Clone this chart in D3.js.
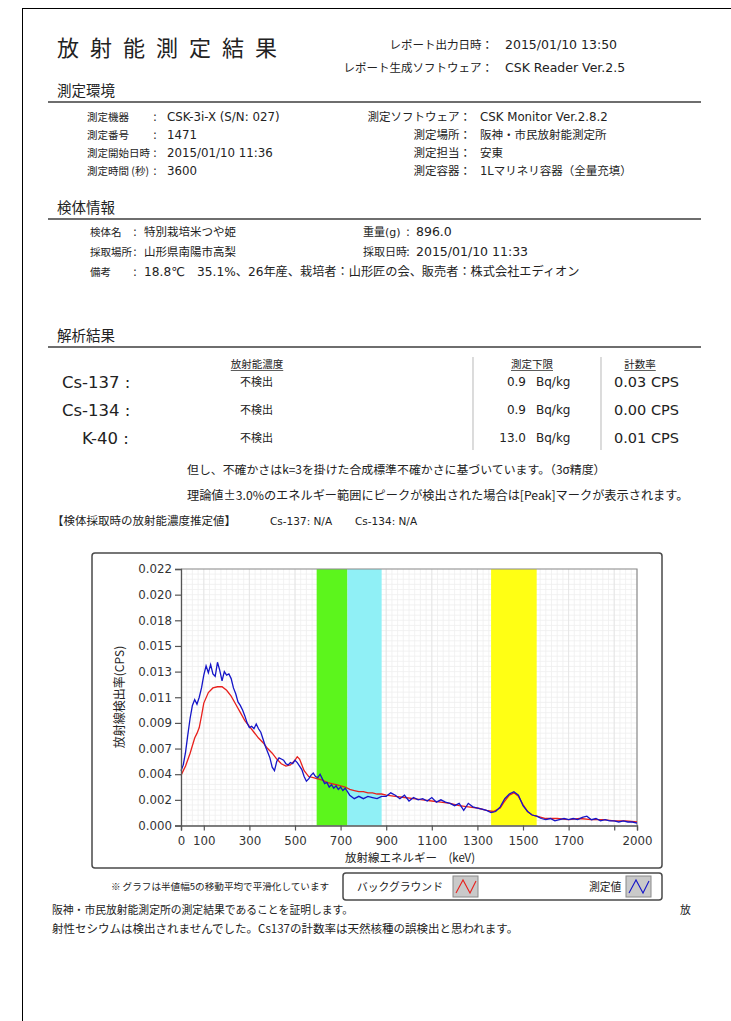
<!DOCTYPE html>
<html>
<head>
<meta charset="utf-8">
<script src="https://cdn.jsdelivr.net/npm/d3@7"></script>
<style>
  body { margin: 0; background: #ffffff; }
  text { font-family: "DejaVu Sans", "Noto Sans CJK JP", sans-serif; fill: #222222; }
  .jp { font-family: "Noto Sans CJK JP", sans-serif; }
</style>
</head>
<body>
<div id="page"></div>
<script>

// measured spectrum (blue) - keV / CPS
const measured_kev = [0,10,20,30,40,50,60,70,80,90,100,110,120,130,140,150,160,170,180,190,
  200,210,220,230,240,250,260,270,280,290,300,310,320,330,340,350,360,370,380,390,
  400,410,420,430,440,450,460,470,480,490,500,510,520,530,540,550,560,570,580,590,
  600,610,620,630,640,650,660,670,680,690,700,710,720,730,740,
  760,780,800,820,840,860,880,900,920,940,960,980,1000,1020,1040,1060,1080,1100,1120,1140,
  1160,1180,1200,1220,1240,1260,1280,1300,1320,1340,1360,1380,1400,1420,1440,1460,1480,1500,1520,1540,
  1560,1580,1600,1620,1640,1660,1680,1700,1720,1740,1760,1780,1800,1820,1840,1860,1880,1900,1920,1940,
  1960,1980,2000];
const measured_cps = [0.0047,0.0052,0.0063,0.0078,0.0092,0.0103,0.0108,0.0104,0.0110,0.0118,
  0.0129,0.0137,0.0131,0.0138,0.0130,0.0128,0.0140,0.0133,0.0124,0.0132,
  0.0129,0.0130,0.0126,0.0118,0.0113,0.0106,0.0103,0.0099,0.0094,0.0088,
  0.0084,0.0085,0.0083,0.0087,0.0083,0.0080,0.0074,0.0068,0.0063,0.0058,
  0.0050,0.0047,0.0055,0.0058,0.0057,0.0056,0.0053,0.0052,0.0054,0.0053,
  0.0056,0.0054,0.0051,0.0048,0.0042,0.0038,0.0040,0.0043,0.0045,0.0042,
  0.0041,0.0044,0.0040,0.0036,0.0037,0.0033,0.0035,0.0032,0.0034,0.0031,
  0.0033,0.0030,0.0032,0.0029,0.0026,
  0.0023,0.0025,0.0023,0.0025,0.0024,0.0023,0.0025,0.0025,0.0028,0.0026,
  0.0023,0.0026,0.0021,0.0024,0.0022,0.0023,0.0021,0.0024,0.0020,0.0022,
  0.0020,0.0019,0.0017,0.0019,0.0013,0.0019,0.0016,0.0015,0.0014,0.0013,
  0.0011,0.0012,0.0016,0.0023,0.0027,0.0029,0.0026,0.0017,0.0012,0.0009,
  0.0008,0.0006,0.0005,0.0006,0.0004,0.0005,0.0006,0.0005,0.0006,0.0005,
  0.0007,0.0008,0.0005,0.0006,0.0004,0.0005,0.0004,0.0004,0.0003,0.0004,
  0.0003,0.0003,0.0002];

// background spectrum (red)
const background_kev = [0,20,40,60,70,80,90,100,120,140,160,180,200,220,240,260,280,300,320,340,360,380,
  400,420,440,460,480,500,510,520,540,560,580,600,620,640,660,680,700,720,740,760,
  780,800,820,840,860,880,900,940,980,1020,1060,1100,1140,1180,1220,1260,1300,1340,1370,1400,
  1420,1440,1460,1480,1500,1520,1540,1560,1600,1650,1700,1750,1800,1850,1900,1950,2000];
const background_cps = [0.0043,0.0051,0.0062,0.0075,0.0079,0.0084,0.0094,0.0105,0.0114,0.0118,0.0119,0.0119,
  0.0116,0.0111,0.0104,0.0097,0.0090,0.0085,0.0080,0.0075,0.0071,0.0066,
  0.0062,0.0057,0.0053,0.0051,0.0052,0.0056,0.0059,0.0057,0.0047,0.0042,
  0.0041,0.0040,0.0039,0.0037,0.0036,0.0035,0.0034,0.0033,0.0031,0.0030,
  0.0029,0.0029,0.0028,0.0028,0.0027,0.0027,0.0026,0.0025,0.0024,0.0023,
  0.0022,0.0021,0.0020,0.0019,0.0017,0.0016,0.0015,0.0013,0.0012,0.0015,
  0.0021,0.0026,0.0028,0.0025,0.0018,0.0012,0.0009,0.0008,0.0006,0.0006,
  0.0005,0.0006,0.0005,0.0005,0.0004,0.0004,0.0003];

// nuclide windows (keV)
const band_ranges = [[595, 730], [730, 880], [1360, 1560]];

const y_ticks = [0, 0.0022, 0.0044, 0.0066, 0.0088, 0.011, 0.0132, 0.0154, 0.0176, 0.0198, 0.022];
const y_tick_labels = ['0.000','0.002','0.004','0.007','0.009','0.011','0.013','0.015','0.018','0.020','0.022'];
const x_ticks = [0, 100, 300, 500, 700, 900, 1100, 1300, 1500, 1700, 1900, 2000];
const x_tick_labels = ['0','100','300','500','700','900','1100','1300','1500','1700','','2000'];

// report texts
const env_left_labels = ['測定機器', '測定番号', '測定開始日時', '測定時間 (秒)'];
const env_left_values = ['CSK-3i-X (S/N: 027)', '1471', '2015/01/10 11:36', '3600'];
const env_right_labels = ['測定ソフトウェア：', '測定場所：', '測定担当：', '測定容器：'];
const env_right_values = ['CSK Monitor Ver.2.8.2', '阪神・市民放射能測定所', '安東', '1Lマリネリ容器（全量充填）'];

const nuclides = ['Cs-137 :', 'Cs-134 :', 'K-40 :'];
const concentrations = ['不検出', '不検出', '不検出'];
const detection_limits = ['0.9', '0.9', '13.0'];
const count_rates = ['0.03 CPS', '0.00 CPS', '0.01 CPS'];


class SpectrumReport {

  constructor(id_tag) {
    this.id_tag = id_tag;
  }

  doReport() {
    const svg = d3.select(this.id_tag)
      .append('svg')
        .attr('width', 731)
        .attr('height', 1021);

    svg.append('rect')
      .attr('x', 22.5).attr('y', 8.5)
      .attr('width', 720).attr('height', 1040)
      .style('fill', 'none')
      .style('stroke', '#000');

    this.doHeader(svg);
    this.doEnvironment(svg);
    this.doSpecimen(svg);
    this.doResults(svg);
    this.doChart(svg);
    this.doLegend(svg);
    this.doFooter(svg);
  }

  txt(svg, x, y, s, size, anchor, cls) {
    return svg.append('text')
      .attr('x', x).attr('y', y)
      .attr('class', cls || null)
      .attr('text-anchor', anchor || 'start')
      .style('font-size', size + 'px')
      .text(s);
  }

  sectionTitle(svg, y, s) {
    this.txt(svg, 57, y, s, 14.5, 'start', 'jp');
    svg.append('line')
      .attr('x1', 48).attr('x2', 701)
      .attr('y1', y + 6).attr('y2', y + 6)
      .style('stroke', '#6e6e6e')
      .style('stroke-width', 2);
  }

  doHeader(svg) {
    this.txt(svg, 57, 56, '放射能測定結果', 22, 'start', 'jp')
      .style('letter-spacing', '11px');
    this.txt(svg, 493, 49, 'レポート出力日時：', 11.5, 'end', 'jp');
    this.txt(svg, 505, 49, '2015/01/10 13:50', 12.5);
    this.txt(svg, 493, 72, 'レポート生成ソフトウェア：', 11.5, 'end', 'jp');
    this.txt(svg, 505, 72, 'CSK Reader Ver.2.5', 12.5);
  }

  doEnvironment(svg) {
    this.sectionTitle(svg, 96, '測定環境');
    env_left_labels.forEach((d, i) => {
      const y = 121 + i * 18;
      this.txt(svg, 87, y, d, 10.5, 'start', 'jp');
      this.txt(svg, 153, y, ':', 11.5);
      this.txt(svg, 167, y, env_left_values[i], 11.8);
      this.txt(svg, 471, y, env_right_labels[i], 11.5, 'end', 'jp');
      this.txt(svg, 480, y, env_right_values[i], i === 0 ? 11.8 : 11.5);
    });
  }

  doSpecimen(svg) {
    this.sectionTitle(svg, 213, '検体情報');
    const rows = [
      ['検体名', '特別栽培米つや姫', '重量(g)', '896.0'],
      ['採取場所', '山形県南陽市高梨', '採取日時', '2015/01/10 11:33'],
      ['備考', '18.8℃　35.1%、26年産、栽培者：山形匠の会、販売者：株式会社エディオン', '', '']
    ];
    rows.forEach((r, i) => {
      const y = 236 + i * 20;
      this.txt(svg, 90, y, r[0], 10.5, 'start', 'jp');
      this.txt(svg, 133, y, ':', 11.5);
      this.txt(svg, 144, y, r[1], i === 2 ? 12.2 : 11.5);
      if (r[2]) {
        this.txt(svg, 363, y, r[2], 11);
        this.txt(svg, 406, y, ':', 11.5);
        this.txt(svg, 416, y, r[3], 12.5);
      }
    });
  }

  doResults(svg) {
    this.sectionTitle(svg, 341, '解析結果');

    const heads = [['放射能濃度', 257], ['測定下限', 532], ['計数率', 640]];
    heads.forEach(h => {
      const t = this.txt(svg, h[1], 368, h[0], 10.5, 'middle', 'jp');
      const w = t.node().getComputedTextLength();
      svg.append('line')
        .attr('x1', h[1] - w / 2).attr('x2', h[1] + w / 2)
        .attr('y1', 370.5).attr('y2', 370.5)
        .style('stroke', '#333').style('stroke-width', 0.8);
    });

    [473, 601].forEach(x => {
      svg.append('line')
        .attr('x1', x).attr('x2', x)
        .attr('y1', 357).attr('y2', 450)
        .style('stroke', '#c4c4c4').style('stroke-width', 1.2);
    });

    nuclides.forEach((d, i) => {
      const y = 388 + i * 28;
      this.txt(svg, 62 + (i === 2 ? 20 : 0), y, d, 16.5);
      this.txt(svg, 240, y - 2, concentrations[i], 11, 'start', 'jp');
      this.txt(svg, 526, y - 2, detection_limits[i], 12, 'end');
      this.txt(svg, 536, y - 2, 'Bq/kg', 12);
      this.txt(svg, 614, y - 1, count_rates[i], 14.5);
    });

    this.txt(svg, 187, 474, '但し、不確かさはk=3を掛けた合成標準不確かさに基づいています。（3σ精度）', 11.9, 'start', 'jp');
    this.txt(svg, 187, 500, '理論値±3.0%のエネルギー範囲にピークが検出された場合は[Peak]マークが表示されます。', 12.2, 'start', 'jp');
    this.txt(svg, 52, 525, '【検体採取時の放射能濃度推定値】', 11.5, 'start', 'jp');
    this.txt(svg, 270, 525, 'Cs-137:  N/A', 10.5);
    this.txt(svg, 355, 525, 'Cs-134:  N/A', 10.5);
  }

  doChart(svg) {
    svg.append('rect')
      .attr('x', 92).attr('y', 553)
      .attr('width', 570).attr('height', 315)
      .attr('rx', 3)
      .style('fill', '#fff')
      .style('stroke', '#4a4a4a')
      .style('stroke-width', 1.5);

    const x = d3.scaleLinear().domain([0, 2000]).range([181, 637]);
    const y = d3.scaleLinear().domain([0, 0.022]).range([825.5, 569]);

    // background grid
    const grid = svg.append('g');
    grid.selectAll('.vminor')
      .data(d3.range(0, 2001, 25))
      .enter().append('line')
        .attr('x1', d => x(d)).attr('x2', d => x(d))
        .attr('y1', y(0)).attr('y2', y(0.022))
        .style('stroke', '#efefef').style('stroke-width', 0.8);
    grid.selectAll('.hminor')
      .data(d3.range(0, 0.02201, 0.00044))
      .enter().append('line')
        .attr('x1', x(0)).attr('x2', x(2000))
        .attr('y1', d => y(d)).attr('y2', d => y(d))
        .style('stroke', '#efefef').style('stroke-width', 0.8);
    grid.selectAll('.vmajor')
      .data(d3.range(100, 2000, 200))
      .enter().append('line')
        .attr('x1', d => x(d)).attr('x2', d => x(d))
        .attr('y1', y(0)).attr('y2', y(0.022))
        .style('stroke', '#e2e2e2').style('stroke-width', 0.8);

    // nuclide windows
    const band_colors = ['#5cf51c', '#90f0f6', '#ffff14'];
    svg.selectAll('.band')
      .data(band_ranges)
      .enter().append('rect')
        .attr('x', d => x(d[0]))
        .attr('width', d => x(d[1]) - x(d[0]))
        .attr('y', y(0.022))
        .attr('height', y(0) - y(0.022))
        .style('fill', (d, i) => band_colors[i]);

    // frame top/right
    svg.append('path')
      .attr('d', `M${x(0)},${y(0.022)}H${x(2000)}V${y(0)}`)
      .style('fill', 'none').style('stroke', '#8c8c8c').style('stroke-width', 1.2);

    const bg = background_kev.map((k, i) => ({ k: k, v: background_cps[i] }));
    const ms = measured_kev.map((k, i) => ({ k: k, v: measured_cps[i] }));
    const line = d3.line().x(d => x(d.k)).y(d => y(d.v));

    svg.append('path').datum(bg)
      .attr('d', line)
      .style('fill', 'none').style('stroke', '#e8201c').style('stroke-width', 1.3);
    svg.append('path').datum(ms)
      .attr('d', line)
      .style('fill', 'none').style('stroke', '#1515c8').style('stroke-width', 1.3);

    // axes
    const xAxis = svg.append('g')
      .attr('transform', `translate(0,${y(0)})`)
      .call(d3.axisBottom(x).tickValues(x_ticks).tickSize(5)
        .tickFormat((d, i) => x_tick_labels[i]));
    const yAxis = svg.append('g')
      .attr('transform', `translate(${x(0)},0)`)
      .call(d3.axisLeft(y).tickValues(y_ticks).tickSize(6).tickPadding(3)
        .tickFormat((d, i) => y_tick_labels[i]));
    [xAxis, yAxis].forEach(a => {
      a.select('.domain').style('stroke', '#555').style('stroke-width', 1.3);
      a.selectAll('.tick line').style('stroke', '#555').style('stroke-width', 1.2);
      a.selectAll('text')
        .style('font-family', '"DejaVu Sans", sans-serif')
        .style('font-size', '11.8px')
        .style('fill', '#333');
    });
    xAxis.selectAll('text').attr('dy', '0.95em');

    this.txt(svg, 410, 862, '放射線エネルギー　(keV)', 11.5, 'middle', 'jp');
    this.txt(svg, 0, 0, '放射線検出率(CPS)', 12, 'middle', 'jp')
      .attr('transform', 'translate(124,697) rotate(-90)');
  }

  doLegend(svg) {
    this.txt(svg, 220, 890, '※ グラフは半値幅5の移動平均で平滑化しています', 9.6, 'middle', 'jp');
    svg.append('rect')
      .attr('x', 343).attr('y', 873)
      .attr('width', 319).attr('height', 27)
      .attr('rx', 3)
      .style('fill', '#fff')
      .style('stroke', '#4a4a4a')
      .style('stroke-width', 1.5);

    const items = [
      { label: 'バックグラウンド', lx: 357, ix: 453, color: '#e8201c' },
      { label: '測定値', lx: 589, ix: 626, color: '#1515c8' }
    ];
    items.forEach(d => {
      this.txt(svg, d.lx, 891, d.label, 10.8, 'start', 'jp');
      svg.append('rect')
        .attr('x', d.ix).attr('y', 876)
        .attr('width', 25).attr('height', 21)
        .style('fill', '#c9c9c9')
        .style('stroke', '#8a8a8a');
      svg.append('polyline')
        .attr('points', [[d.ix + 3, 893], [d.ix + 10, 880], [d.ix + 17, 893], [d.ix + 23, 881]].join(' '))
        .style('fill', 'none')
        .style('stroke', d.color)
        .style('stroke-width', 1.1);
    });
  }

  doFooter(svg) {
    this.txt(svg, 52, 914, '阪神・市民放射能測定所の測定結果であることを証明します。', 10.8, 'start', 'jp');
    this.txt(svg, 680, 914, '放', 10.8, 'start', 'jp');
    this.txt(svg, 52, 933, '射性セシウムは検出されませんでした。Cs137の計数率は天然核種の誤検出と思われます。', 11.5, 'start', 'jp');
  }

}

new SpectrumReport('#page').doReport();

</script>
</body>
</html>
